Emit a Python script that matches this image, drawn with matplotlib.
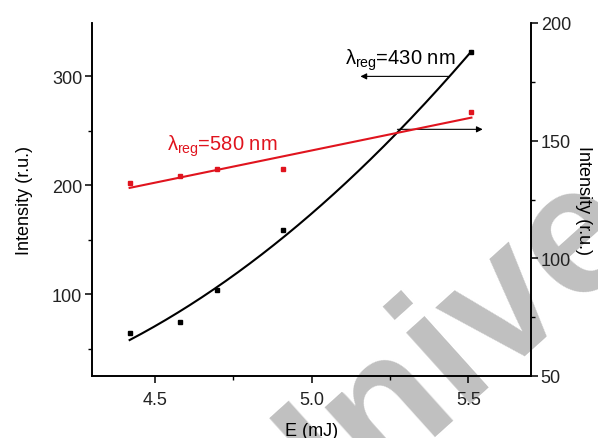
import numpy as np
import matplotlib
matplotlib.use("Agg")
import matplotlib.pyplot as plt
from matplotlib.ticker import MultipleLocator, FormatStrFormatter

plt.rcParams['font.family'] = ['Liberation Sans', 'DejaVu Sans']
plt.rcParams['mathtext.fontset'] = 'custom'
plt.rcParams['mathtext.rm'] = 'Liberation Sans'
plt.rcParams['mathtext.it'] = 'Liberation Sans'

# data
E_430 = [4.42, 4.58, 4.70, 4.91, 5.51]
I_430 = [64.5, 74.6, 104.0, 159.4, 322.0]
E_580 = [4.42, 4.58, 4.70, 4.91, 5.51]
I_580 = [132.0, 135.0, 138.0, 138.0, 162.0]

fig = plt.figure(figsize=(5.98, 4.39), dpi=100)

# watermark (behind the axes)
fig.text(0.47, -0.29, 'Unive', fontsize=130, color='#c0c0c0', rotation=42,
         rotation_mode='anchor', ha='left', va='baseline', zorder=-5,
         fontweight='bold')

ax = fig.add_axes([92/598, 1-377/439, (531-92)/598, (377-24)/439])
ax2 = ax.twinx()
ax.patch.set_alpha(0)
ax2.patch.set_alpha(0)

# fits
xf = np.linspace(min(E_430), max(E_430), 200)
c2 = np.polyfit(E_430, I_430, 2)
ax.plot(xf, np.polyval(c2, xf), color='black', lw=1.5, zorder=3)
ax.plot(E_430, I_430, 's', color='black', ms=3, zorder=4)

c1 = np.polyfit(E_580, I_580, 1)
ax2.plot(xf, np.polyval(c1, xf), color='#e0141e', lw=1.5)
ax2.plot(E_580, I_580, 's', color='#e0141e', ms=3)

ax.set_xlim(4.3, 5.7)
ax.set_ylim(25, 349)
ax2.set_ylim(50, 200)

ax.xaxis.set_major_locator(MultipleLocator(0.5))
ax.xaxis.set_minor_locator(MultipleLocator(0.25))
ax.yaxis.set_major_locator(MultipleLocator(100))
ax.yaxis.set_minor_locator(MultipleLocator(50))
ax2.yaxis.set_major_locator(MultipleLocator(50))
ax2.yaxis.set_minor_locator(MultipleLocator(25))

for a in (ax, ax2):
    a.spines['top'].set_visible(False)
    for s in a.spines.values():
        s.set_linewidth(1.2)
    a.tick_params(which='major', direction='out', length=5, width=1.1, labelsize=13,
                  colors='black', labelcolor='#222222')
    a.tick_params(which='minor', direction='out', length=3, width=1.0)
ax.tick_params(axis='y', pad=2)
ax2.tick_params(axis='y', pad=2)
ax.tick_params(axis='x', pad=6)
ax.xaxis.set_major_formatter(FormatStrFormatter('%.1f'))

ax.set_xlabel('E (mJ)', fontsize=13, labelpad=10)
ax.set_ylabel('Intensity (r.u.)', fontsize=13, labelpad=14)
ax2.set_ylabel('Intensity (r.u.)', fontsize=13, rotation=-90, labelpad=15)

ax.text(4.54, 233, r'$\lambda_{\mathrm{reg}}$=580 nm', color='#e0141e', fontsize=14.5,
        va='baseline')
ax.text(5.108, 312, r'$\lambda_{\mathrm{reg}}$=430 nm', color='black', fontsize=14.5,
        va='baseline')
ax.annotate('', xy=(5.156, 300), xytext=(5.437, 300),
            arrowprops=dict(arrowstyle='-|>', color='black', lw=0.8, mutation_scale=9,
                            shrinkA=0, shrinkB=0))
ax.annotate('', xy=(5.546, 251.4), xytext=(5.274, 251.4),
            arrowprops=dict(arrowstyle='-|>', color='black', lw=0.8, mutation_scale=9,
                            shrinkA=0, shrinkB=0))

fig.savefig('out.png', dpi=100)
